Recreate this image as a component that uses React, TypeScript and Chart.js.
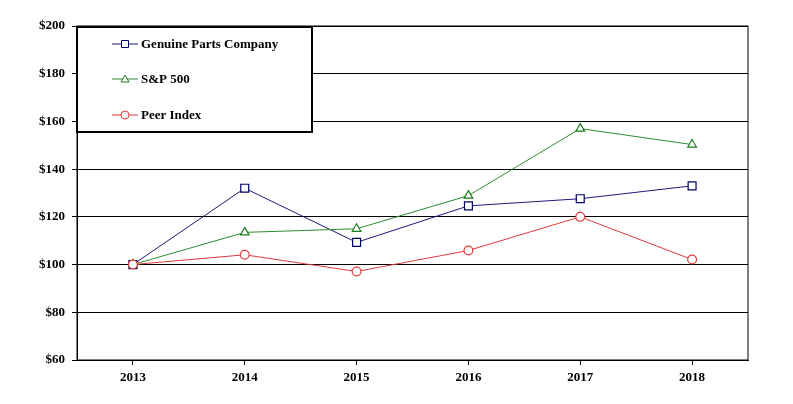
import React, { useEffect, useRef } from "react";
import { Chart, registerables } from "chart.js";

Chart.register(...registerables);

const years = ["2013", "2014", "2015", "2016", "2017", "2018"];
const gpc = [100, 132, 109.3, 124.6, 127.6, 133];
const sp500 = [100, 113.5, 115, 128.9, 157, 150.3];
const peer = [100, 104.1, 97.1, 105.9, 120, 102.1];
const yTicks = [60, 80, 100, 120, 140, 160, 180, 200];

const FONT = "'Liberation Serif', 'Times New Roman', serif";

const frameAndLegend = {
  id: "frameAndLegend",
  afterDatasetsDraw(chart: any) {
    const { ctx, chartArea } = chart;
    ctx.save();
    ctx.strokeStyle = "#000";
    ctx.lineWidth = 1;
    ctx.strokeRect(chartArea.left, chartArea.top, chartArea.right - chartArea.left, chartArea.bottom - chartArea.top);
    const bx = chartArea.left;
    const by = chartArea.top;
    const bw = 235;
    const bh = 106;
    ctx.fillStyle = "#fff";
    ctx.fillRect(bx, by, bw, bh);
    ctx.lineWidth = 2;
    ctx.strokeRect(bx, by + 1, bw, bh - 1);
    const rows = [18, 53, 89];
    chart.data.datasets.forEach((ds: any, i: number) => {
      const y = by + rows[i];
      const x0 = bx + 35;
      const x1 = bx + 61;
      ctx.strokeStyle = ds.borderColor;
      ctx.lineWidth = 1;
      ctx.beginPath();
      ctx.moveTo(x0, y);
      ctx.lineTo(x1, y);
      ctx.stroke();
      const cx = (x0 + x1) / 2;
      ctx.fillStyle = "#fff";
      ctx.strokeStyle = ds.pointBorderColor;
      ctx.beginPath();
      if (ds.pointStyle === "rect") {
        ctx.rect(cx - 3.5, y - 3.5, 7, 7);
      } else if (ds.pointStyle === "triangle") {
        ctx.moveTo(cx, y - 4);
        ctx.lineTo(cx + 4, y + 3);
        ctx.lineTo(cx - 4, y + 3);
        ctx.closePath();
      } else {
        ctx.arc(cx, y, 4, 0, Math.PI * 2);
      }
      ctx.fill();
      ctx.stroke();
      ctx.fillStyle = "#000";
      ctx.font = `bold 13px ${FONT}`;
      ctx.textBaseline = "middle";
      ctx.textAlign = "left";
      ctx.fillText(ds.label, x1 + 3, y + 1);
    });
    ctx.restore();
  },
};

export default function App() {
  const ref = useRef<HTMLCanvasElement>(null);
  useEffect(() => {
    document.body.style.margin = "0";
    const chart = new Chart(ref.current!, {
      type: "line",
      data: {
        labels: years,
        datasets: [
          {
            label: "Genuine Parts Company",
            data: gpc,
            order: 3,
            borderColor: "#1a1a7a",
            pointBorderColor: "#000066",
            pointBackgroundColor: "#fff",
            pointStyle: "rect",
            pointRadius: 5.6,
            borderWidth: 1,
            pointBorderWidth: 1.2,
          },
          {
            label: "S&P 500",
            data: sp500,
            order: 2,
            borderColor: "#2e8b2e",
            pointBorderColor: "#1f7a1f",
            pointBackgroundColor: "#fff",
            pointStyle: "triangle",
            pointRadius: 5,
            borderWidth: 1,
            pointBorderWidth: 1.2,
          },
          {
            label: "Peer Index",
            data: peer,
            order: 1,
            borderColor: "#e03a3a",
            pointBorderColor: "#e03a3a",
            pointBackgroundColor: "#fff",
            pointStyle: "circle",
            pointRadius: 4.4,
            borderWidth: 1,
            pointBorderWidth: 1.2,
          },
        ],
      } as any,
      options: {
        animation: false,
        responsive: false,
        maintainAspectRatio: false,
        layout: { padding: { left: 0, right: 45, top: 26, bottom: 0 } },
        plugins: { legend: { display: false }, tooltip: { enabled: false } },
        scales: {
          x: {
            offset: true,
            grid: { drawOnChartArea: false, offset: false, color: "#000", tickLength: 5, lineWidth: 1 },
            border: { color: "#000", width: 1 },
            ticks: { color: "#000", font: { family: FONT, size: 13, weight: "bold" }, padding: 5, maxRotation: 0 },
            afterFit: (s: any) => { s.height = 44; },
          },
          y: {
            min: 60,
            max: 200,
            afterBuildTicks: (s: any) => { s.ticks = yTicks.map((v) => ({ value: v })); },
            grid: { color: "#000", tickLength: 5, lineWidth: 1 },
            border: { color: "#000", width: 1 },
            ticks: {
              color: "#000",
              font: { family: FONT, size: 13, weight: "bold" },
              padding: 7,
              callback: (v: any) => "$" + v,
            },
            afterFit: (s: any) => { s.width = 77; },
          },
        },
      } as any,
      plugins: [frameAndLegend],
    });
    return () => chart.destroy();
  }, []);
  return (
    <div style={{ width: 793, height: 404 }}>
      <canvas ref={ref} width={793} height={404} style={{ width: 793, height: 404 }} />
    </div>
  );
}
